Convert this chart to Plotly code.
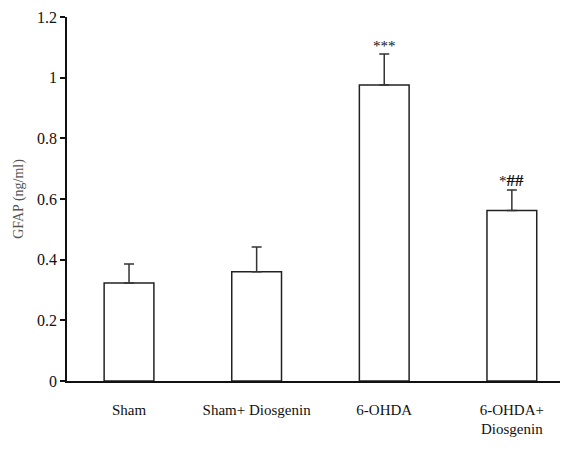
import plotly.graph_objects as go

categories = ["Sham", "Sham+ Diosgenin", "6-OHDA", "6-OHDA+<br>Diosgenin"]
means = [0.323, 0.36, 0.976, 0.562]
errors = [0.063, 0.082, 0.102, 0.068]
signif = ["***", "*<b><span style='font-size:17px'>##</span></b>"]
signif_idx = [2, 3]
y_ticks = [0, 0.2, 0.4, 0.6, 0.8, 1.0, 1.2]
y_tick_text = ["0", "0.2", "0.4", "0.6", "0.8", "1", "1.2"]

xpos = list(range(len(categories)))

fig = go.Figure()
fig.add_trace(go.Bar(
    x=xpos, y=means,
    width=0.39,
    marker=dict(color="white", line=dict(color="#222", width=1.5)),
    error_y=dict(type="data", array=errors, arrayminus=[0]*len(errors),
                 symmetric=False, color="#333", thickness=1.5, width=5),
    showlegend=False,
))

for i, s in zip(signif_idx, signif):
    fig.add_annotation(x=xpos[i], y=means[i] + errors[i], text=s, showarrow=False,
                       yanchor="bottom", yshift=-2,
                       font=dict(family="Liberation Serif", size=15, color="#111"))

fig.update_layout(
    width=560, height=444,
    margin=dict(l=59, r=0, t=9, b=71),
    plot_bgcolor="white", paper_bgcolor="white",
    font=dict(family="Liberation Serif", color="#111"),
    xaxis=dict(
        range=[-0.486, 3.44],
        tickmode="array", tickvals=xpos, ticktext=categories,
        showline=True, linecolor="#111", linewidth=1.5,
        ticks="", showgrid=False, zeroline=False,
        tickfont=dict(size=15, family="Liberation Serif", color="#111"),
        ticklabelstandoff=14,
    ),
    yaxis=dict(
        range=[0, 1.2],
        tickmode="array", tickvals=y_ticks, ticktext=y_tick_text,
        showline=True, linecolor="#111", linewidth=1.5,
        ticks="outside", ticklen=5, tickcolor="#111", tickwidth=1.5,
        showgrid=False, zeroline=False,
        tickfont=dict(size=16, family="Liberation Serif", color="#111"),
        title=dict(text="GFAP (ng/ml)", standoff=10,
                   font=dict(size=14, family="Liberation Serif", color="#555")),
    ),
)

fig.write_html("out.html")
